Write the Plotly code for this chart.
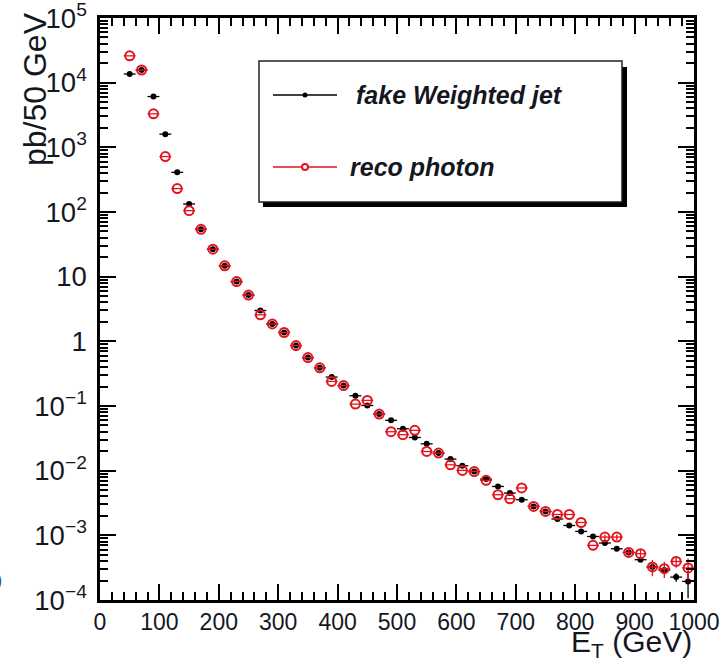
import plotly.graph_objects as go

# Bin centres (GeV), 20 GeV wide bins
et_centres = [50, 70, 90, 110, 130, 150, 170, 190, 210, 230, 250, 270, 290, 310,
              330, 350, 370, 390, 410, 430, 450, 470, 490, 510, 530, 550, 570,
              590, 610, 630, 650, 670, 690, 710, 730, 750, 770, 790, 810, 830,
              850, 870, 890, 910, 930, 950, 970, 990]
half_bin = 10

# Fake (weighted jet) spectrum, pb / 50 GeV
fake_jet = [1.36e4, 1.57e4, 6.1e3, 1.6e3, 4.1e2, 1.33e2, 54, 26.6, 14.7, 8.4, 5.2,
            3.0, 1.86, 1.37, 0.86, 0.56, 0.39, 0.28, 0.207, 0.144, 0.102, 0.075,
            0.060, 0.0445, 0.0326, 0.026, 0.0187, 0.0151, 0.0119, 0.0097, 0.0074,
            0.0057, 0.0045, 0.00355, 0.0028, 0.00234, 0.00179, 0.00142, 0.00115,
            0.00096, 0.00076, 0.00062, 0.000544, 0.00042, 0.000324, 0.00029,
            0.000226, 0.000194]
fake_jet_relerr = [0] * 44 + [0.08, 0.1, 0.15, 0.45]

# Reconstructed photon spectrum, pb / 50 GeV
reco_photon = [2.6e4, 1.57e4, 3.3e3, 7.2e2, 2.3e2, 1.05e2, 54, 26.6, 14.7, 8.4, 5.2,
               2.57, 1.86, 1.37, 0.86, 0.56, 0.39, 0.24, 0.207, 0.107, 0.122, 0.075,
               0.040, 0.036, 0.042, 0.0198, 0.0187, 0.0123, 0.0101, 0.0097, 0.0071,
               0.00424, 0.00368, 0.0054, 0.0028, 0.00234, 0.0021, 0.0021, 0.00158,
               0.0007, 0.00094, 0.00094, 0.000544, 0.00052, 0.000324, 0.000305,
               0.000395, 0.000313]
reco_relerr = [0] * 40 + [0.1, 0.1, 0.15, 0.15, 0.28, 0.28, 0.2, 0.4]

# axis ranges: E_T 0..1000 GeV, cross-section 1e-4..1e5 (log decades)
x_range = [0, 1000]
y_decades = [-4, 5]

RED = "#e3141e"
INK = "#15171f"
FONT = "Liberation Sans, Arial, sans-serif"

fig = go.Figure()

fig.add_trace(go.Scatter(
    x=et_centres, y=fake_jet, mode="markers", name="fake Weighted jet",
    marker=dict(symbol="circle", size=6, color="black"),
    error_x=dict(type="constant", value=half_bin, thickness=1.3, width=0, color="black"),
    error_y=dict(type="data", array=[v * r for v, r in zip(fake_jet, fake_jet_relerr)],
                 thickness=1.3, width=0, color="black"),
))
fig.add_trace(go.Scatter(
    x=et_centres, y=reco_photon, mode="markers", name="reco photon",
    marker=dict(symbol="circle-open", size=9, color=RED, line=dict(width=2, color=RED)),
    error_x=dict(type="constant", value=half_bin, thickness=1.3, width=0, color=RED),
    error_y=dict(type="data", array=[v * r for v, r in zip(reco_photon, reco_relerr)],
                 thickness=1.3, width=0, color=RED),
))

# plot-area geometry in pixels
L, R, T, B = 100, 694, 18, 600
W, H = R - L, B - T


def px(x):
    return (x - L) / W


def py(y):
    return (B - y) / H


# hand-drawn legend box with drop shadow
box_l, box_r, box_t, box_b = 259, 622, 61, 202
shapes = [
    dict(type="rect", xref="paper", yref="paper",
         x0=px(box_l + 4), x1=px(box_r + 5), y0=py(box_b + 5), y1=py(box_t + 6),
         fillcolor="black", line=dict(width=0)),
    dict(type="rect", xref="paper", yref="paper",
         x0=px(box_l), x1=px(box_r), y0=py(box_b), y1=py(box_t),
         fillcolor="white", line=dict(width=1.5, color="#222")),
    dict(type="line", xref="paper", yref="paper",
         x0=px(273), x1=px(337), y0=py(95), y1=py(95), line=dict(width=1.3, color="black")),
    dict(type="line", xref="paper", yref="paper",
         x0=px(273), x1=px(337), y0=py(167), y1=py(167), line=dict(width=1.3, color=RED)),
    dict(type="circle", xref="paper", yref="paper", xsizemode="pixel", ysizemode="pixel",
         xanchor=px(305), yanchor=py(95), x0=-2.5, x1=2.5, y0=-2.5, y1=2.5,
         fillcolor="black", line=dict(width=0)),
    dict(type="circle", xref="paper", yref="paper", xsizemode="pixel", ysizemode="pixel",
         xanchor=px(305), yanchor=py(167), x0=-3, x1=3, y0=-3, y1=3,
         fillcolor="white", line=dict(width=2, color=RED)),
]

annotations = [
    dict(text="<b><i>fake Weighted jet</i></b>", xref="paper", yref="paper",
         x=px(354), y=py(95), xanchor="left", yanchor="middle", showarrow=False,
         font=dict(family=FONT, size=25, color=INK)),
    dict(text="<b><i>reco photon</i></b>", xref="paper", yref="paper",
         x=px(348), y=py(167), xanchor="left", yanchor="middle", showarrow=False,
         font=dict(family=FONT, size=25, color=INK)),
    dict(text="E<sub>T</sub> (GeV)", xref="paper", yref="paper",
         x=px(694), y=py(643), xanchor="right", yanchor="middle", showarrow=False,
         font=dict(family=FONT, size=30, color=INK)),
    dict(text="pb/50 GeV", xref="paper", yref="paper", textangle=-90,
         x=px(35), y=py(10), xanchor="center", yanchor="top", showarrow=False,
         font=dict(family=FONT, size=32, color=INK)),
    dict(text="0", xref="paper", yref="paper",
         x=px(-5), y=py(582), xanchor="center", yanchor="middle", showarrow=False,
         font=dict(family=FONT, size=23, color="#1d3f8a")),
]

fig.update_layout(
    template="none",
    width=721, height=668,
    margin=dict(l=L, r=721 - R, t=T, b=668 - B),
    paper_bgcolor="white", plot_bgcolor="white",
    showlegend=False,
    shapes=shapes, annotations=annotations,
    font=dict(family=FONT, size=23, color=INK),
)

fig.update_xaxes(
    range=x_range, tick0=0, dtick=100,
    showline=True, linewidth=2.5, linecolor="black", mirror="allticks",
    ticks="inside", ticklen=16, tickwidth=1.5, tickcolor="black",
    minor=dict(ticks="inside", dtick=20, ticklen=8, tickwidth=1.5, tickcolor="black",
               showgrid=False),
    showgrid=False, zeroline=False, ticklabeloverflow="allow",
    tickfont=dict(family=FONT, size=23, color=INK),
)
fig.update_yaxes(
    type="log", range=y_decades, dtick=1, exponentformat="power",
    showline=True, linewidth=2.5, linecolor="black", mirror="allticks",
    ticks="inside", ticklen=16, tickwidth=1.5, tickcolor="black",
    minor=dict(ticks="inside", dtick="D1", ticklen=8, tickwidth=1.5, tickcolor="black",
               showgrid=False),
    showgrid=False, zeroline=False, ticklabelstandoff=6, ticklabeloverflow="allow",
    tickfont=dict(family=FONT, size=22, color=INK),
)

fig.write_html("out.html")
